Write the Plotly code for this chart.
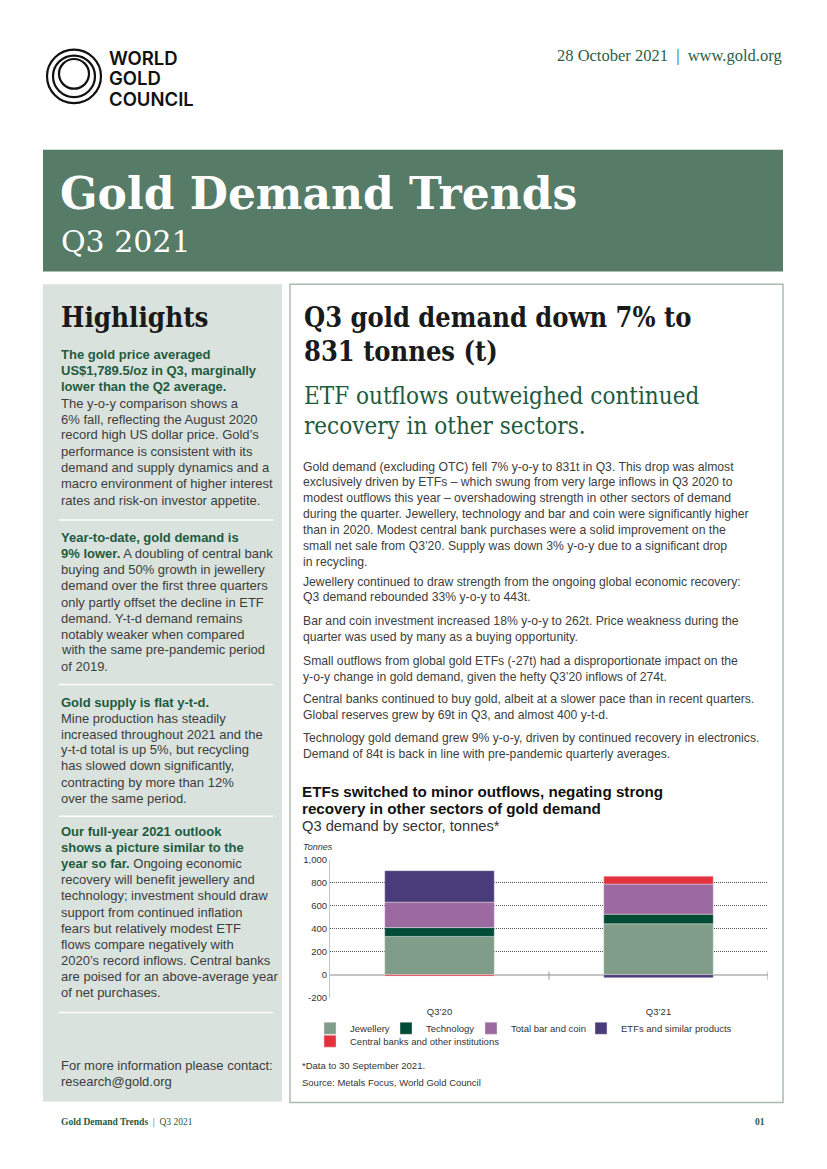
import plotly.graph_objects as go

# ---------------- data ----------------
quarters = ["Q3\u201920", "Q3\u201921"]
jewellery = [333.0, 443.1]
technology = [77.0, 84.0]
bar_and_coin = [222.1, 262.1]
etfs = [273.9, -26.8]
central_banks = [-12.1, 69.1]
series_names = ["Jewellery", "Technology", "Total bar and coin",
                "ETFs and similar products", "Central banks and other institutions"]
ytick_vals = [-200, 0, 200, 400, 600, 800, 1000]
ytick_text = ["-200", "0", "200", "400", "600", "800", "1,000"]

# ---------------- page geometry helpers ----------------
W, H = 827, 1169
def X(px):
    return px / W
def Y(py):
    return 1 - py / H

SERIF = "DejaVu Serif"
SERIF_C = "DejaVu Serif Condensed, DejaVu Serif"
SANS = "Liberation Sans"
GREEN = "#1f5b3f"
BODY = "#3d3d3d"
colors = ["#809d89", "#004b33", "#9c69a0", "#4a3b7b", "#e3313d"]

fig = go.Figure()
values = [jewellery, technology, bar_and_coin, etfs, central_banks]
legend_ids = ["legend", "legend2", "legend3", "legend4", "legend5"]
for name, vals, col, lg in zip(series_names, values, colors, legend_ids):
    fig.add_trace(go.Bar(
        x=quarters, y=vals, name=name, width=0.5,
        marker=dict(color=col, line=dict(color="rgba(235,235,235,0.7)", width=0.6)),
        legend=lg, hoverinfo="skip"))

annotations = []
def text(px, py, s, size, color=BODY, family=SANS, xanchor="left", weight="normal", style="normal",
         height=None):
    a = dict(x=X(px), y=Y(py), xref="paper", yref="paper", text=s,
             showarrow=False, xanchor=xanchor, yanchor="middle", align="left",
             font=dict(size=size, color=color, family=family, weight=weight, style=style))
    if height:
        a["height"] = height
        a["valign"] = "middle"
    annotations.append(a)

shapes = []
def rect(x0, y0, x1, y1, fill=None, line=None, lw=0):
    shapes.append(dict(type="rect", xref="paper", yref="paper", x0=X(x0), x1=X(x1), y0=Y(y1), y1=Y(y0),
                       fillcolor=fill if fill else "rgba(0,0,0,0)",
                       line=dict(color=line if line else "rgba(0,0,0,0)", width=lw), layer="below"))
def hline(x0, x1, y, color, lw):
    shapes.append(dict(type="line", xref="paper", yref="paper", x0=X(x0), x1=X(x1), y0=Y(y), y1=Y(y),
                       line=dict(color=color, width=lw)))
def circle(cx, cy, r, color, lw):
    shapes.append(dict(type="circle", xref="paper", yref="paper", x0=X(cx - r), x1=X(cx + r),
                       y0=Y(cy + r), y1=Y(cy - r), line=dict(color=color, width=lw)))

# ---------------- header ----------------
circle(74, 71, 27, "#111", 2.2)
circle(74, 71, 21, "#111", 2.2)
circle(74, 68.5, 15, "#111", 2.2)
text(107, 52, "WORLD", 18.5, "#111", "Inter", weight=600, height=19)
text(107, 72.5, "GOLD", 18.5, "#111", "Inter", weight=600, height=19)
text(107, 93, "COUNCIL", 18.5, "#111", "Inter", weight=600, height=19)
text(784, 50, "28 October 2021  |  www.gold.org", 16.5, "#2b5e45", "Liberation Serif", xanchor="right")

rect(43, 145, 783, 268, fill="#567b67")
text(58, 189, "Gold Demand Trends", 44, "#ffffff", SERIF, weight="bold")
text(59, 238, "Q3 2021", 30, "#ffffff", SERIF)

# ---------------- left panel ----------------
rect(43, 281, 282, 1106, fill="#d9e2dc")
text(59, 314, "Highlights", 27.5, "#1a1a1a", SERIF_C, weight="bold")

def g(s):
    return "<b><span style='color:%s'>%s</span></b>" % (GREEN, s)

left_lines = [
    (352, g("The gold price averaged")),
    (368, g("US$1,789.5/oz in Q3, marginally")),
    (384, g("lower than the Q2 average.")),
    (401, "The y-o-y comparison shows a"),
    (417, "6% fall, reflecting the August 2020"),
    (433, "record high US dollar price. Gold\u2019s"),
    (450, "performance is consistent with its"),
    (466, "demand and supply dynamics and a"),
    (482, "macro environment of higher interest"),
    (499, "rates and risk-on investor appetite."),
    (537, g("Year-to-date, gold demand is")),
    (553, g("9% lower.") + " A doubling of central bank"),
    (569, "buying and 50% growth in jewellery"),
    (585, "demand over the first three quarters"),
    (602, "only partly offset the decline in ETF"),
    (618, "demand. Y-t-d demand remains"),
    (634, "notably weaker when compared"),
    (650, "with the same pre-pandemic period"),
    (667, "of 2019."),
    (703, g("Gold supply is flat y-t-d.")),
    (719, "Mine production has steadily"),
    (735, "increased throughout 2021 and the"),
    (751, "y-t-d total is up 5%, but recycling"),
    (767, "has slowed down significantly,"),
    (784, "contracting by more than 12%"),
    (800, "over the same period."),
    (833, g("Our full-year 2021 outlook")),
    (849, g("shows a picture similar to the")),
    (866, g("year so far.") + " Ongoing economic"),
    (882, "recovery will benefit jewellery and"),
    (898, "technology; investment should draw"),
    (915, "support from continued inflation"),
    (931, "fears but relatively modest ETF"),
    (947, "flows compare negatively with"),
    (964, "2020\u2019s record inflows. Central banks"),
    (980, "are poised for an above-average year"),
    (996, "of net purchases."),
    (1070, "For more information please contact:"),
    (1086, "research@gold.org"),
]
for py, s in left_lines:
    text(59, py, s, 13.0)
for py in [519, 685, 818, 1016]:
    hline(59, 273, py, "#ffffff", 1.5)

# ---------------- right box ----------------
rect(290, 281, 783, 1107, line="#a9bdac", lw=1.5)
text(302, 314, "Q3 gold demand down 7% to", 27, "#1a1a1a", SERIF_C, weight="bold")
text(302, 349, "831 tonnes (t)", 27, "#1a1a1a", SERIF_C, weight="bold")
text(302, 394, "ETF outflows outweighed continued", 24, "#1e5a3e", SERIF_C)
text(302, 424, "recovery in other sectors.", 24, "#1e5a3e", SERIF_C)

body_lines = [
    (465, "Gold demand (excluding OTC) fell 7% y-o-y to 831t in Q3. This drop was almost"),
    (481, "exclusively driven by ETFs \u2013 which swung from very large inflows in Q3 2020 to"),
    (497, "modest outflows this year \u2013 overshadowing strength in other sectors of demand"),
    (513, "during the quarter. Jewellery, technology and bar and coin were significantly higher"),
    (529, "than in 2020. Modest central bank purchases were a solid improvement on the"),
    (545, "small net sale from Q3\u201920. Supply was down 3% y-o-y due to a significant drop"),
    (561, "in recycling."),
    (581, "Jewellery continued to draw strength from the ongoing global economic recovery:"),
    (597, "Q3 demand rebounded 33% y-o-y to 443t."),
    (621, "Bar and coin investment increased 18% y-o-y to 262t. Price weakness during the"),
    (637, "quarter was used by many as a buying opportunity."),
    (661, "Small outflows from global gold ETFs (-27t) had a disproportionate impact on the"),
    (677, "y-o-y change in gold demand, given the hefty Q3\u201920 inflows of 274t."),
    (700, "Central banks continued to buy gold, albeit at a slower pace than in recent quarters."),
    (716, "Global reserves grew by 69t in Q3, and almost 400 y-t-d."),
    (739, "Technology gold demand grew 9% y-o-y, driven by continued recovery in electronics."),
    (755, "Demand of 84t is back in line with pre-pandemic quarterly averages."),
]
for py, s in body_lines:
    text(301, py, s, 12.2)

# chart titles
text(300, 793, "<b>ETFs switched to minor outflows, negating strong</b>", 15.2, "#111")
text(300, 810, "<b>recovery in other sectors of gold demand</b>", 15.2, "#111")
text(300, 828, "Q3 demand by sector, tonnes*", 14.7, "#333")
text(301, 849, "Tonnes", 9, "#333", style="italic")
text(300, 1070, "*Data to 30 September 2021.", 9.5, "#333")
text(300, 1087, "Source: Metals Focus, World Gold Council", 9.5, "#333")

# footer
text(59, 1127, "<b>Gold Demand Trends</b>  |  Q3 2021", 9.5, "#1f5b3f", "Liberation Serif")
text(767, 1127, "<b>01</b>", 9.5, "#1f5b3f", "Liberation Serif", xanchor="right")

# zero-line tick marks at category boundaries
for xb in [0.5, 1.5]:
    shapes.append(dict(type="line", xref="x", yref="y", x0=xb, x1=xb, y0=-45, y1=28,
                       line=dict(color="#9a9a9a", width=1)))

# ---------------- axes ----------------
plot_left, plot_right, plot_top, plot_bottom = 330, 768, 862, 1001
fig.update_layout(
    width=W, height=H,
    margin=dict(l=0, r=0, t=0, b=0),
    paper_bgcolor="white", plot_bgcolor="rgba(0,0,0,0)",
    barmode="relative",
    showlegend=True,
    annotations=annotations,
    shapes=shapes,
    xaxis=dict(domain=[X(plot_left), X(plot_right)], range=[-0.5, 1.5], type="category",
               showgrid=False, zeroline=False, showline=False, ticks="",
               tickfont=dict(size=9.5, color="#333", family=SANS), ticklabelstandoff=7,
               fixedrange=True),
    yaxis=dict(domain=[Y(plot_bottom), Y(plot_top)], range=[-200, 1000],
               tickvals=ytick_vals, ticktext=ytick_text,
               showgrid=True, gridcolor="#555555", gridwidth=1, griddash="1px,1px",
               zeroline=True, zerolinecolor="#c4c4c4", zerolinewidth=1.5,
               showline=True, linecolor="#c4c4c4", linewidth=1,
               ticks="", tickfont=dict(size=9.5, color="#333", family=SANS),
               fixedrange=True),
)

legend_pos = [(328, 1032), (404, 1032), (489, 1032), (599, 1032), (328, 1045)]
for lg, (lx, ly) in zip(legend_ids, legend_pos):
    fig.update_layout({lg: dict(x=X(lx - 18), y=Y(ly), xanchor="left", yanchor="middle",
                                orientation="h", bgcolor="rgba(0,0,0,0)",
                                font=dict(size=9.5, color="#333", family=SANS),
                                itemclick=False, itemdoubleclick=False)})

fig.write_html("out.html", config={"displayModeBar": False},
               post_script="document.body.style.margin='0';")
